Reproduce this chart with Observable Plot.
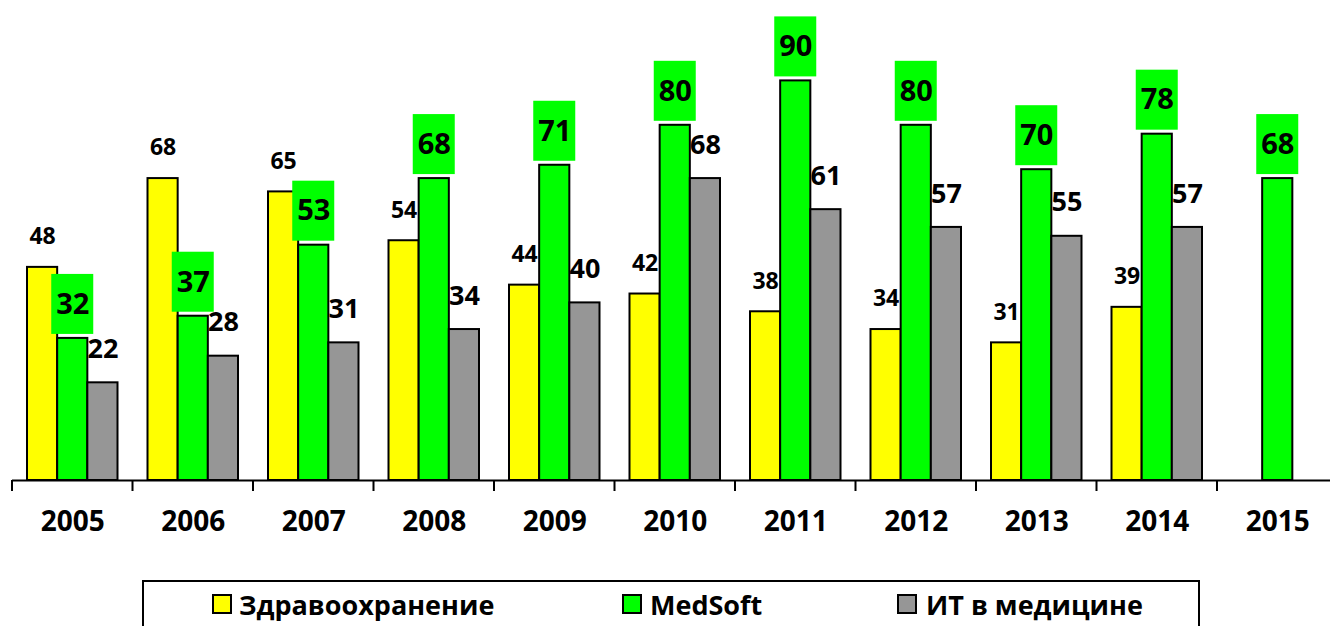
<!DOCTYPE html>
<html><head><meta charset="utf-8">
<script src="https://cdn.jsdelivr.net/npm/d3@7"></script>
<script src="https://cdn.jsdelivr.net/npm/@observablehq/plot@0.6"></script>
<style>
html,body{margin:0;padding:0;background:#fff;overflow:hidden;width:1330px;height:626px;position:relative;}
#chart{position:absolute;left:0;top:0;}
#legendBox{position:absolute;left:142px;top:580px;width:1058px;height:80px;border:2px solid #000;box-sizing:border-box;}
.sw{position:absolute;top:594px;width:20px;height:20px;border:2px solid #000;box-sizing:border-box;}
.lt{position:absolute;top:591px;font-family:"Open Sans";font-weight:bold;font-size:27px;line-height:27px;white-space:nowrap;color:#000;}
</style>
</head><body>
<div id="chart"></div>
<div id="legend"></div>
<script>
const years = ["2005","2006","2007","2008","2009","2010","2011","2012","2013","2014","2015"];
const health = [48,68,65,54,44,42,38,34,31,39,null];
const medsoft = [32,37,53,68,71,80,90,80,70,78,68];
const itmed = [22,28,31,34,40,68,61,57,55,57,null];
const seriesNames = ["Здравоохранение","MedSoft","ИТ в медицине"];
const seriesColors = ["#ffff00","#00ff00","#969696"];

const rows = years.map((year,i)=>({year, h:health[i], m:medsoft[i], t:itmed[i]}));
const hRows = rows.filter(d=>d.h!=null);
const mRows = rows.filter(d=>d.m!=null);
const tRows = rows.filter(d=>d.t!=null);

const step = 120.5, pad = 15, bw = (step - 2*pad)/3;
const font = "Open Sans";

const chart = Plot.plot({
  width: 1330, height: 560,
  marginLeft: 12, marginRight: 0, marginTop: 36, marginBottom: 80,
  style: {fontFamily: font, background: "#fff", overflow: "visible"},
  x: {type: "band", domain: years, range: [12, 12 + step*years.length], padding: 0, round: false, axis: null},
  y: {domain: [0, 100], axis: null},
  marks: [
    Plot.barY(hRows, {x: "year", y: "h", fill: seriesColors[0], stroke: "#000", strokeWidth: 2, insetLeft: pad, insetRight: step - pad - bw}),
    Plot.barY(mRows, {x: "year", y: "m", fill: seriesColors[1], stroke: "#000", strokeWidth: 2, insetLeft: pad + bw, insetRight: pad + bw}),
    Plot.barY(tRows, {x: "year", y: "t", fill: seriesColors[2], stroke: "#000", strokeWidth: 2, insetLeft: step - pad - bw, insetRight: pad}),
    Plot.ruleY([0], {stroke: "#000", strokeWidth: 2}),
    Plot.barY(years, {x: d => d, y1: 0, y2: 0, insetTop: 0, insetBottom: -11, insetLeft: -1, insetRight: step - 1, fill: "#000"}),
    Plot.barY(mRows, {x: "year", y1: "m", y2: "m", fill: "#00ff00", insetTop: -64, insetBottom: 4, insetLeft: (step-42)/2, insetRight: (step-42)/2}),
    Plot.text(hRows, {x: "year", y: "h", text: d => String(d.h), dx: -bw, dy: -30.5, fontSize: 23, fontWeight: "bold", fill: "#000"}),
    Plot.text(mRows, {x: "year", y: "m", text: d => String(d.m), dy: -34, fontSize: 29, fontWeight: "bold", fill: "#000"}),
    Plot.text(tRows, {x: "year", y: "t", text: d => String(d.t), dx: bw, dy: -33.5, fontSize: 27, fontWeight: "bold", fill: "#000"}),
    Plot.text(years, {x: d => d, frameAnchor: "bottom", dy: 50, text: d => d, fontSize: 28, fontWeight: "bold", fill: "#000"})
  ]
});
document.getElementById("chart").appendChild(chart);

const leg = document.getElementById("legend");
const box = document.createElement("div"); box.id = "legendBox"; leg.appendChild(box);
const swLeft = [212, 622, 897];
const txLeft = [239, 650, 926];
seriesNames.forEach((name, i) => {
  const s = document.createElement("div"); s.className = "sw";
  s.style.left = swLeft[i] + "px"; s.style.background = seriesColors[i];
  leg.appendChild(s);
  const t = document.createElement("div"); t.className = "lt";
  t.style.left = txLeft[i] + "px"; t.textContent = name;
  leg.appendChild(t);
});
</script>
</body></html>
